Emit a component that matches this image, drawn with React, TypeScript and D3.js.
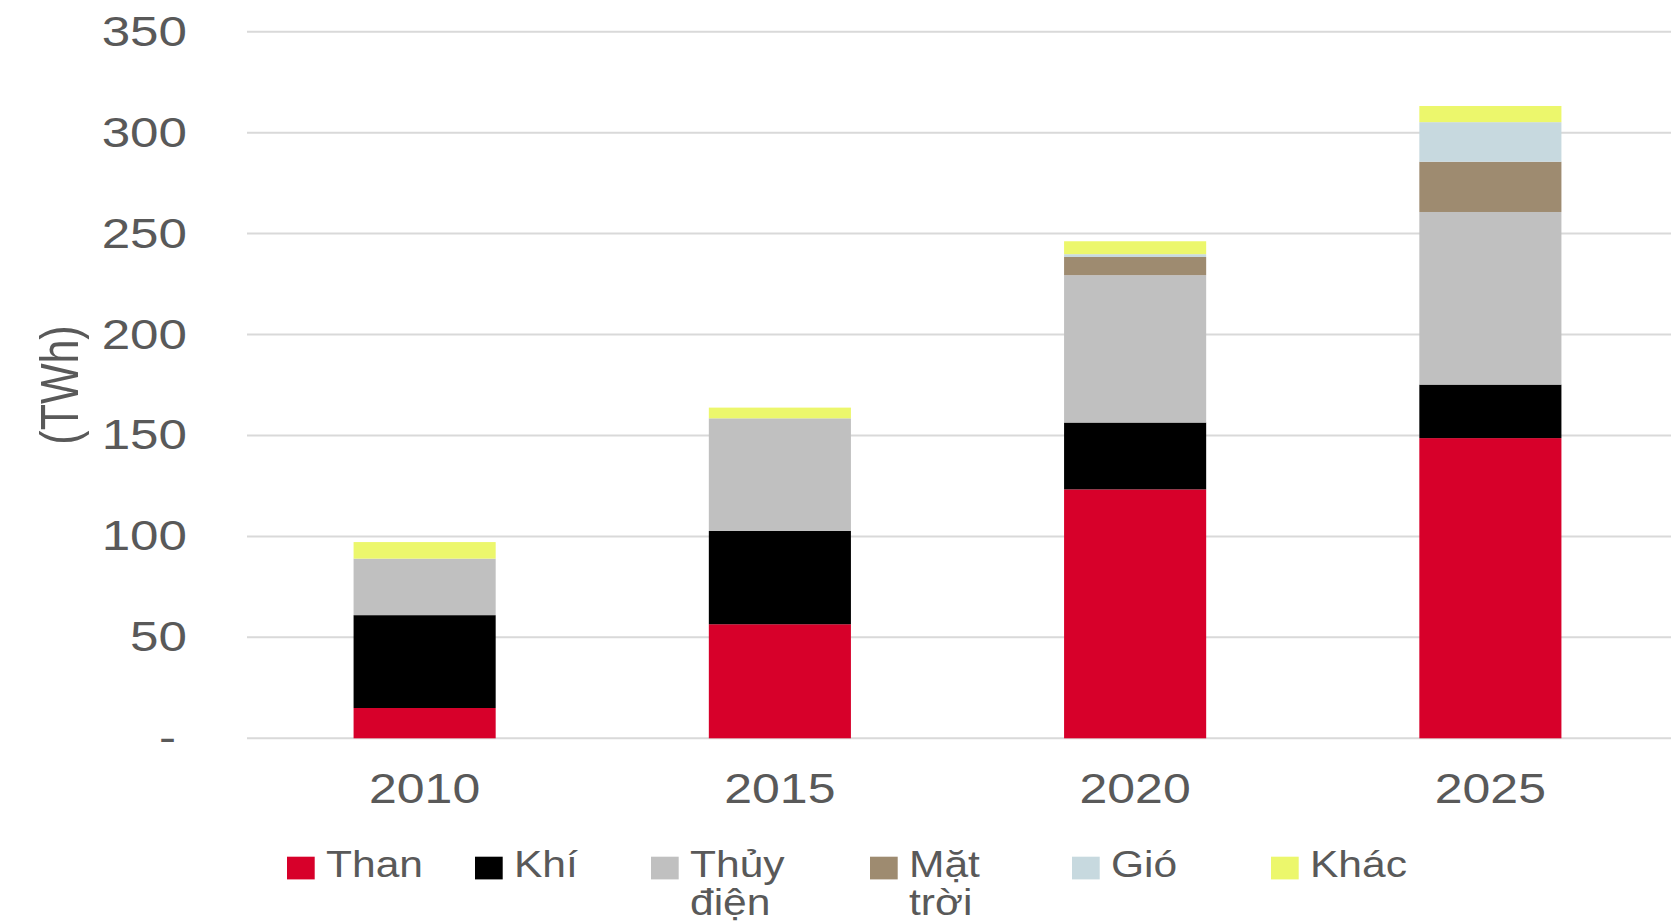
import React from "react";
import * as d3 from "d3";

const categories = ["2010", "2015", "2020", "2025"];
const seriesNames = ["Than", "Khí", "Thủy điện", "Mặt trời", "Gió", "Khác"];
const than = [15, 56.5, 123.3, 148.7];
const khi = [46, 46.2, 33.1, 26.5];
const thuyDien = [28, 55.8, 73, 85.5];
const matTroi = [0, 0, 9, 24.9];
const gio = [0, 0, 1.4, 19.6];
const khac = [8.2, 5.3, 6.4, 8];
const yTicks = [0, 50, 100, 150, 200, 250, 300, 350];
const yTickLabels = ["-", "50", "100", "150", "200", "250", "300", "350"];
const legendLines = [["Than"], ["Khí"], ["Thủy", "điện"], ["Mặt", "trời"], ["Gió"], ["Khác"]];

const colors = ["#d7002a", "#000000", "#c0c0c0", "#9e8b70", "#c7d9df", "#ecf76c"];
const legendX = [287, 475, 651, 870, 1072, 1271];

const W = 1671;
const H = 924;
const FONT = "'Liberation Sans', Arial, sans-serif";
const TEXT = "#595959";
const SX = 1.19;

export default function App() {
  const rows = categories.map((c, i) => ({
    cat: c,
    s0: than[i],
    s1: khi[i],
    s2: thuyDien[i],
    s3: matTroi[i],
    s4: gio[i],
    s5: khac[i],
  }));
  const keys = ["s0", "s1", "s2", "s3", "s4", "s5"];
  const stacked = d3.stack<any>().keys(keys)(rows);

  const x = d3
    .scaleBand<string>()
    .domain(categories)
    .range([247, 1668])
    .paddingInner(0.6)
    .paddingOuter(0.3);
  const y = d3.scaleLinear().domain([0, 350]).range([738.3, 31.7]);

  return (
    <svg
      width={W}
      height={H}
      style={{ position: "absolute", left: 0, top: 0, background: "#fff" }}
      fontFamily={FONT}
    >
      {yTicks.map((t) => (
        <line
          key={"g" + t}
          x1={247}
          x2={W}
          y1={y(t)}
          y2={y(t)}
          stroke="#d9d9d9"
          strokeWidth={2}
        />
      ))}
      {yTicks.map((t, i) => (
        <text
          key={"t" + t}
          transform={`translate(${t === 0 ? 176 : 187},${y(t) + 14}) scale(${SX},1)`}
          textAnchor="end"
          fontSize={43}
          fill={TEXT}
        >
          {yTickLabels[i]}
        </text>
      ))}
      <text
        transform={`translate(59,385) scale(1.25,1) rotate(-90)`}
        textAnchor="middle"
        dominantBaseline="central"
        fontSize={43}
        fill={TEXT}
      >
        (TWh)
      </text>
      {stacked.map((layer, li) => (
        <g key={layer.key} fill={colors[li]}>
          {layer.map((d, di) =>
            d[1] - d[0] > 0 ? (
              <rect
                key={di}
                x={x(categories[di])}
                width={x.bandwidth()}
                y={y(d[1])}
                height={y(d[0]) - y(d[1])}
              />
            ) : null
          )}
        </g>
      ))}
      {categories.map((c) => (
        <text
          key={"x" + c}
          transform={`translate(${(x(c) as number) + x.bandwidth() / 2},802.7) scale(${SX},1)`}
          textAnchor="middle"
          fontSize={42}
          fill={TEXT}
        >
          {c}
        </text>
      ))}
      {seriesNames.map((s, i) => (
        <g key={"l" + s}>
          <rect x={legendX[i]} y={856.7} width={27.7} height={22.7} fill={colors[i]} />
          <text
            transform={`translate(${legendX[i] + 39},876.7) scale(1.15,1)`}
            fontSize={37}
            fill={TEXT}
          >
            {legendLines[i].map((ln, k) => (
              <tspan key={k} x={0} dy={k === 0 ? 0 : 38.3}>
                {ln}
              </tspan>
            ))}
          </text>
        </g>
      ))}
    </svg>
  );
}
